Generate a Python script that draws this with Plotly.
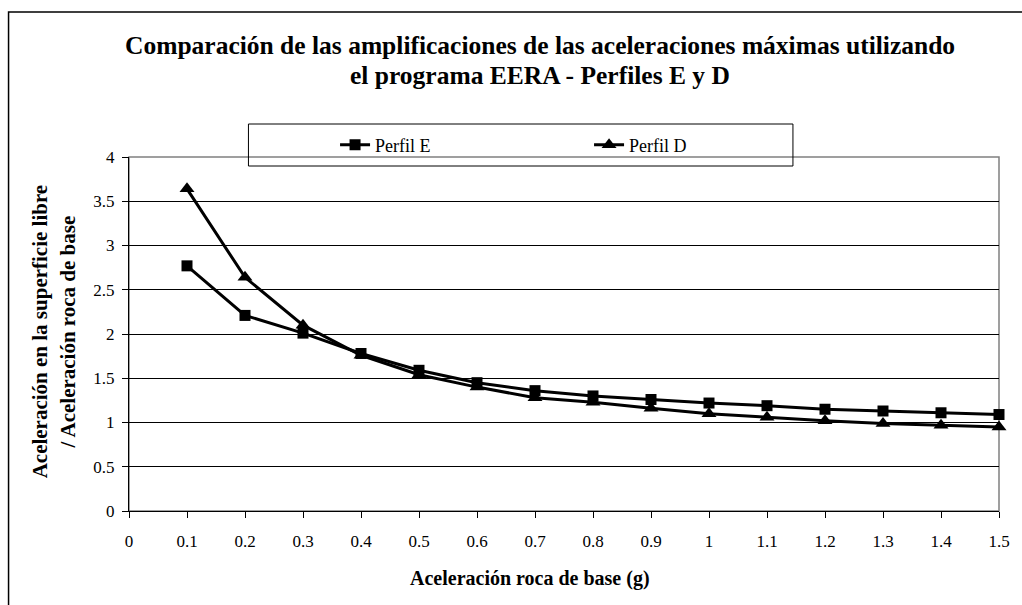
import plotly.graph_objects as go

x_vals = [0.1, 0.2, 0.3, 0.4, 0.5, 0.6, 0.7, 0.8, 0.9, 1.0, 1.1, 1.2, 1.3, 1.4, 1.5]
perfil_e = [2.77, 2.21, 2.01, 1.78, 1.59, 1.45, 1.36, 1.30, 1.26, 1.22, 1.19, 1.15, 1.13, 1.11, 1.09]
perfil_d = [3.64, 2.64, 2.10, 1.76, 1.54, 1.40, 1.28, 1.23, 1.16, 1.10, 1.06, 1.02, 0.99, 0.97, 0.95]
x_ticks = [0, 0.1, 0.2, 0.3, 0.4, 0.5, 0.6, 0.7, 0.8, 0.9, 1.0, 1.1, 1.2, 1.3, 1.4, 1.5]
x_ticktext = ["0", "0.1", "0.2", "0.3", "0.4", "0.5", "0.6", "0.7", "0.8", "0.9", "1", "1.1", "1.2", "1.3", "1.4", "1.5"]
y_ticks = [0, 0.5, 1, 1.5, 2, 2.5, 3, 3.5, 4]
y_ticktext = ["0", "0.5", "1", "1.5", "2", "2.5", "3", "3.5", "4"]

FONT = "Liberation Serif"

W, H = 1022, 605
L, R, T, B = 129, 1003, 157, 511
pw, ph = R - L, B - T

def px(xp):
    return (xp - L) / pw

def py(yp):
    return (B - yp) / ph

fig = go.Figure()
fig.add_trace(go.Scatter(
    x=x_vals, y=perfil_e, name="Perfil E", mode="lines+markers",
    line=dict(color="black", width=3),
    marker=dict(symbol="square", size=11, color="black"),
    cliponaxis=False,
))
fig.add_trace(go.Scatter(
    x=x_vals, y=perfil_d, name="Perfil D", mode="lines+markers",
    line=dict(color="black", width=3),
    marker=dict(symbol="triangle-up", size=13, color="black"),
    cliponaxis=False,
))

fig.update_layout(
    width=W, height=H,
    margin=dict(l=L, r=W - R, t=T, b=H - B, pad=0),
    paper_bgcolor="white", plot_bgcolor="white",
    font=dict(family=FONT, size=17, color="black"),
    showlegend=True,
    legend=dict(
        orientation="h", x=px(336), y=py(145), xanchor="left", yanchor="middle",
        bgcolor="rgba(0,0,0,0)", borderwidth=0,
        font=dict(family=FONT, size=18, color="black"),
        entrywidth=209, entrywidthmode="pixels",
        itemwidth=30,
    ),
    xaxis=dict(
        range=[0, 1.5], tickmode="array", tickvals=x_ticks, ticktext=x_ticktext,
        showgrid=False, zeroline=False, showline=True, linecolor="black", linewidth=1,
        ticks="outside", ticklen=6, tickcolor="black", tickwidth=1,
        ticklabelstandoff=9,
        tickfont=dict(family=FONT, size=17, color="black"),
    ),
    yaxis=dict(
        range=[0, 4], tickmode="array", tickvals=y_ticks, ticktext=y_ticktext,
        showgrid=True, gridcolor="black", gridwidth=1, zeroline=False,
        showline=True, linecolor="black", linewidth=1,
        ticks="outside", ticklen=6, tickcolor="black", tickwidth=1,
        ticklabelstandoff=4,
        tickfont=dict(family=FONT, size=17, color="black"),
    ),
)

shapes = [
    # outer chart border (continues beyond the window)
    dict(type="rect", xref="paper", yref="paper", x0=px(8), x1=px(1030), y0=py(615), y1=py(12),
         line=dict(color="black", width=1.5), fillcolor="rgba(0,0,0,0)", layer="below"),
    # plot area border (gray)
    dict(type="rect", xref="paper", yref="paper", x0=0, x1=1, y0=0, y1=1,
         line=dict(color="#808080", width=1.5), fillcolor="rgba(0,0,0,0)", layer="below"),
    # legend box
    dict(type="rect", xref="paper", yref="paper", x0=px(249), x1=px(796), y0=py(166), y1=py(124),
         line=dict(color="black", width=1), fillcolor="rgba(0,0,0,0)"),
]
fig.update_layout(shapes=shapes)

annotations = [
    dict(text="Comparación de las amplificaciones de las aceleraciones máximas utilizando",
         xref="paper", yref="paper", x=px(542), y=py(45), xanchor="center", yanchor="middle",
         showarrow=False, font=dict(family=FONT, size=25.5, color="black", weight="bold")),
    dict(text="el programa EERA - Perfiles E y D",
         xref="paper", yref="paper", x=px(542), y=py(75), xanchor="center", yanchor="middle",
         showarrow=False, font=dict(family=FONT, size=25.5, color="black", weight="bold")),
    dict(text="Aceleración roca de base (g)",
         xref="paper", yref="paper", x=px(532), y=py(578), xanchor="center", yanchor="middle",
         showarrow=False, font=dict(family=FONT, size=20, color="black", weight="bold")),
    dict(text="Aceleración en la superficie libre<br>/ Aceleración roca de base",
         xref="paper", yref="paper", x=px(53), y=py(331), xanchor="center", yanchor="middle",
         textangle=-90, showarrow=False, font=dict(family=FONT, size=21, color="black", weight="bold")),
]
fig.update_layout(annotations=annotations)

fig.write_html("out.html")
